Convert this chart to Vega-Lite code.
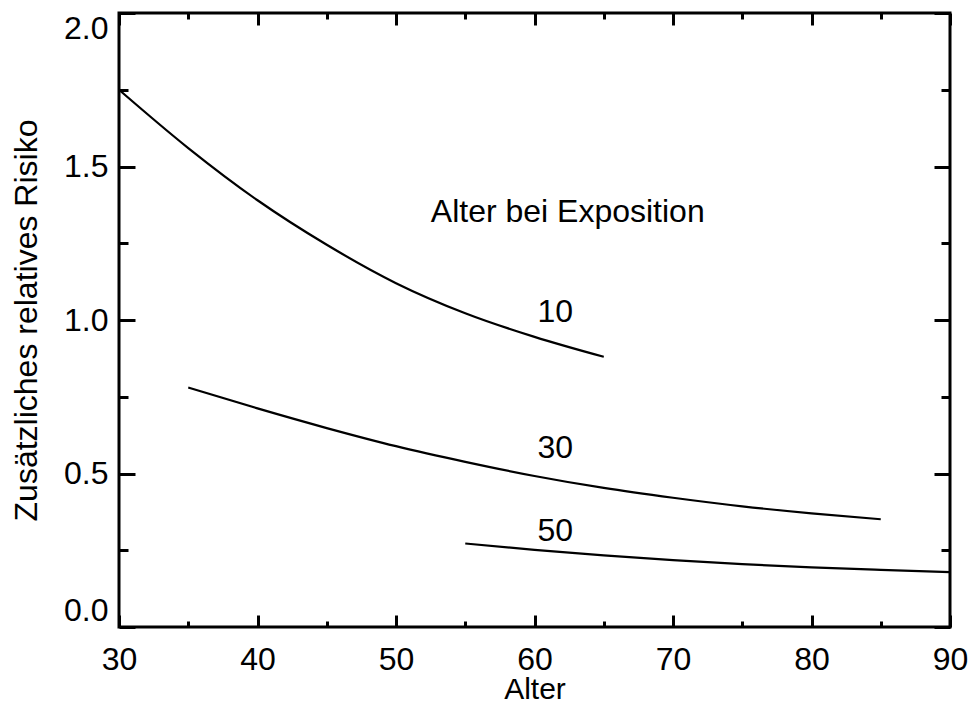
{
  "$schema": "https://vega.github.io/schema/vega-lite/v6.json",
  "width": 831,
  "height": 614,
  "autosize": {"type": "none"},
  "padding": {"left": 119, "top": 13, "right": 20, "bottom": 79},
  "background": "white",
  "config": {
    "view": {"stroke": "black", "strokeWidth": 3},
    "axis": {
      "domain": false,
      "grid": false,
      "tickColor": "black",
      "tickWidth": 3,
      "labelFont": "Liberation Sans",
      "labelFontSize": 32,
      "labelColor": "black",
      "titleFont": "Liberation Sans",
      "titleFontSize": 32,
      "titleFontWeight": "normal",
      "titleColor": "black"
    }
  },
  "datasets": {
    "curves": [
      {"age": 30, "err": 1.75, "exp": 10},
      {"age": 35, "err": 1.56, "exp": 10},
      {"age": 40, "err": 1.39, "exp": 10},
      {"age": 45, "err": 1.245, "exp": 10},
      {"age": 50, "err": 1.12, "exp": 10},
      {"age": 55, "err": 1.022, "exp": 10},
      {"age": 60, "err": 0.945, "exp": 10},
      {"age": 65, "err": 0.88, "exp": 10},
      {"age": 35, "err": 0.78, "exp": 30},
      {"age": 40, "err": 0.712, "exp": 30},
      {"age": 45, "err": 0.648, "exp": 30},
      {"age": 50, "err": 0.589, "exp": 30},
      {"age": 55, "err": 0.538, "exp": 30},
      {"age": 60, "err": 0.492, "exp": 30},
      {"age": 65, "err": 0.453, "exp": 30},
      {"age": 70, "err": 0.421, "exp": 30},
      {"age": 75, "err": 0.393, "exp": 30},
      {"age": 80, "err": 0.37, "exp": 30},
      {"age": 85, "err": 0.351, "exp": 30},
      {"age": 55, "err": 0.272, "exp": 50},
      {"age": 60, "err": 0.251, "exp": 50},
      {"age": 65, "err": 0.233, "exp": 50},
      {"age": 70, "err": 0.218, "exp": 50},
      {"age": 75, "err": 0.205, "exp": 50},
      {"age": 80, "err": 0.194, "exp": 50},
      {"age": 85, "err": 0.186, "exp": 50},
      {"age": 90, "err": 0.179, "exp": 50}
    ],
    "labels": [
      {"age": 61.5, "err": 0.994, "label": "10"},
      {"age": 61.5, "err": 0.5495, "label": "30"},
      {"age": 61.5, "err": 0.281, "label": "50"},
      {"age": 62.4, "err": 1.32, "label": "Alter bei Exposition"}
    ]
  },
  "layer": [
    {
      "data": {"name": "curves"},
      "transform": [{"filter": "datum.exp == 10"}],
      "mark": {"type": "line", "color": "black", "strokeWidth": 2.2, "interpolate": "monotone"},
      "encoding": {
        "x": {"field": "age", "type": "quantitative",
          "scale": {"domain": [30, 90], "nice": false, "zero": false},
          "axis": {"orient": "bottom", "values": [30, 40, 50, 60, 70, 80, 90], "tickSize": -12, "labelPadding": 29, "labelFlush": false, "title": "Alter", "titleFontSize": 30, "titlePadding": -1}},
        "y": {"field": "err", "type": "quantitative",
          "scale": {"domain": [0, 2], "nice": false, "zero": true},
          "axis": {"orient": "left", "values": [0, 0.5, 1, 1.5, 2], "format": ".1f", "tickSize": -16, "labelPadding": 27, "labelFlush": true, "title": "Zusätzliches relatives Risiko", "titlePadding": 20}}
      }
    },
    {
      "data": {"name": "curves"},
      "transform": [{"filter": "datum.exp == 30"}],
      "mark": {"type": "line", "color": "black", "strokeWidth": 2.2, "interpolate": "monotone"},
      "encoding": {
        "x": {"field": "age", "type": "quantitative",
          "scale": {"domain": [30, 90], "nice": false, "zero": false},
          "axis": {"orient": "bottom", "values": [35, 45, 55, 65, 75, 85], "tickSize": -6, "labels": false, "title": null}},
        "y": {"field": "err", "type": "quantitative",
          "scale": {"domain": [0, 2], "nice": false},
          "axis": {"orient": "left", "values": [0.25, 0.75, 1.25, 1.75], "tickSize": -9, "labels": false, "title": null}}
      }
    },
    {
      "data": {"name": "curves"},
      "transform": [{"filter": "datum.exp == 50"}],
      "mark": {"type": "line", "color": "black", "strokeWidth": 2.2, "interpolate": "monotone"},
      "encoding": {
        "x": {"field": "age", "type": "quantitative",
          "scale": {"domain": [30, 90], "nice": false, "zero": false},
          "axis": {"orient": "top", "values": [30, 40, 50, 60, 70, 80, 90], "tickSize": -12, "labels": false, "title": null}},
        "y": {"field": "err", "type": "quantitative",
          "scale": {"domain": [0, 2], "nice": false},
          "axis": {"orient": "right", "values": [0, 0.5, 1, 1.5, 2], "tickSize": -16, "labels": false, "title": null}}
      }
    },
    {
      "data": {"name": "labels"},
      "mark": {"type": "text", "color": "black", "font": "Liberation Sans", "fontSize": 32, "align": "center", "baseline": "alphabetic"},
      "encoding": {
        "x": {"field": "age", "type": "quantitative",
          "scale": {"domain": [30, 90], "nice": false, "zero": false},
          "axis": {"orient": "top", "values": [35, 45, 55, 65, 75, 85], "tickSize": -6, "labels": false, "title": null}},
        "y": {"field": "err", "type": "quantitative",
          "scale": {"domain": [0, 2], "nice": false},
          "axis": {"orient": "right", "values": [0.25, 0.75, 1.25, 1.75], "tickSize": -9, "labels": false, "title": null}},
        "text": {"field": "label", "type": "nominal"}
      }
    }
  ],
  "resolve": {"axis": {"x": "independent", "y": "independent"}}
}
